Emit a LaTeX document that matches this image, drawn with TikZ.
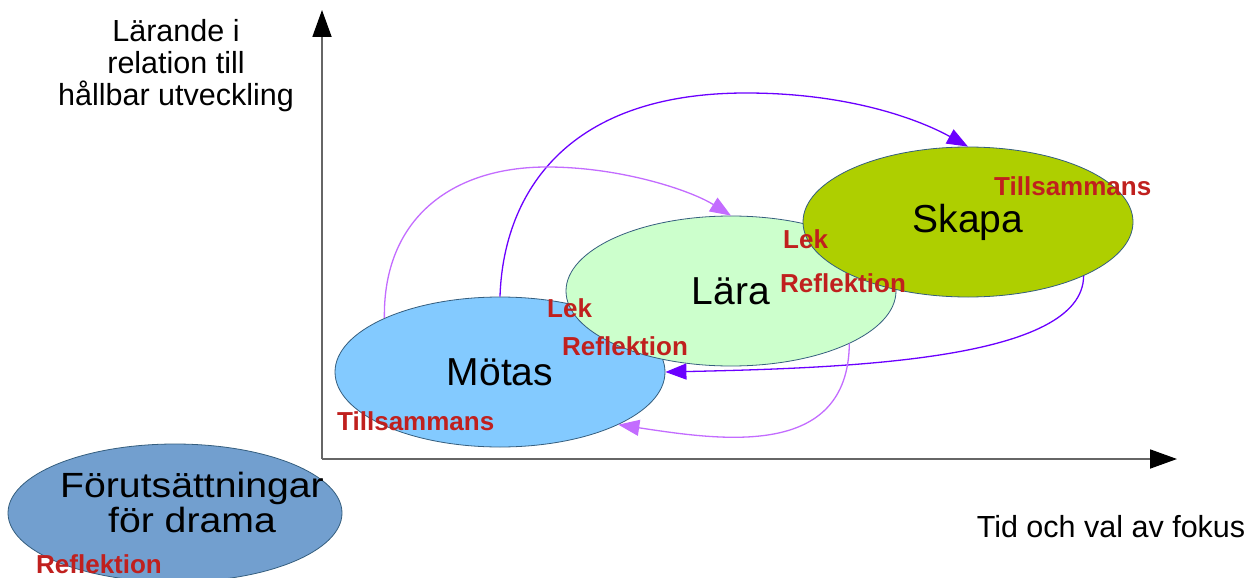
\documentclass[tikz,border=0pt]{standalone}
\usepackage{fontspec}
\setmainfont{Liberation Sans}
\usetikzlibrary{shapes.geometric,arrows.meta}
\definecolor{edgec}{HTML}{355E7E}
\definecolor{forfill}{HTML}{729FCF}
\definecolor{motfill}{HTML}{83CAFF}
\definecolor{larfill}{HTML}{CCFFCC}
\definecolor{skafill}{HTML}{AECF00}
\definecolor{kwred}{HTML}{C0201E}
\definecolor{vdark}{HTML}{6B00FF}
\definecolor{vlight}{HTML}{C36CFF}
\definecolor{axisgray}{HTML}{666666}
\begin{document}
\begin{tikzpicture}[x=1pt,y=-1pt,
  stage/.style={ellipse, draw=edgec, line width=0.8pt, inner sep=0pt,
    minimum width=330pt, minimum height=150pt, font=\fontsize{39}{40}\selectfont},
  kw/.style={text=kwred, font=\bfseries\fontsize{26}{26}\selectfont, anchor=base west, inner sep=0pt},
  axislbl/.style={font=\fontsize{30.5}{31.5}\selectfont, align=center, inner sep=0pt, anchor=base},
  flow/.style={line width=1.3pt, -{Triangle[length=21pt,width=16pt]}},
  axisline/.style={line width=1.8pt, draw=axisgray, -{Triangle[length=27pt,width=19pt,color=black]}}
]
\useasboundingbox (0,0) rectangle (1258,578);
\clip (0,0) rectangle (1258,578);

% axes
\coordinate (origin) at (322,459);
\coordinate (ytop) at (322,10);
\coordinate (xend) at (1177,459);
\draw[axisline] (origin) -- (ytop);
\draw[axisline] (origin) -- (xend);

\node[axislbl] (ylabel) at (176,105) {Lärande i\\relation till\\hållbar utveckling};
\node[axislbl] (xlabel) at (1111,537) {Tid och val av fokus};

% ellipses
\node[ellipse, draw=edgec, line width=0.8pt, fill=forfill, inner sep=0pt,
      minimum width=334pt, minimum height=138pt] (forut) at (175,513) {};
\node[font=\fontsize{35}{35}\selectfont, align=center, inner sep=0pt, anchor=base] (forutext) at (192,532)
  {\scalebox{1.12}[1]{Förutsättningar}\\\scalebox{1.12}[1]{för drama}};

\node[stage, fill=motfill] (motas) at (500,372) {Mötas};
\node[stage, fill=larfill] (lara) at (731,291) {Lära};
\node[stage, fill=skafill] (skapa) at (968,222) {Skapa};

% connectors
\coordinate (apex) at (746,93);
\coordinate (bapex) at (547,167);
\draw[flow, vdark] (motas.north) .. controls (503,200) and (560,93) .. (apex)
   .. controls (850,93) and (920,120) .. (skapa.north);
\draw[flow, vlight] (motas.155) .. controls (383,220) and (450,167) .. (bapex)
   .. controls (620,167) and (690,190) .. (lara.north);
\draw[flow, vdark] (skapa.-25) .. controls (1083,360) and (850,368) .. (motas.east);
\draw[flow, vlight] (lara.-24) .. controls (848,460) and (720,440) .. (motas.-24);

% keywords
\node[kw] (lek1) at (547,317) {Lek};
\node[kw] (refl1) at (562,355) {Reflektion};
\node[kw] (till1) at (337,430) {Tillsammans};
\node[kw] (lek2) at (783,248) {Lek};
\node[kw] (refl2) at (780,292) {Reflektion};
\node[kw] (till2) at (994,195) {Tillsammans};
\node[kw] (refl3) at (36,573) {Reflektion};
\end{tikzpicture}
\end{document}
